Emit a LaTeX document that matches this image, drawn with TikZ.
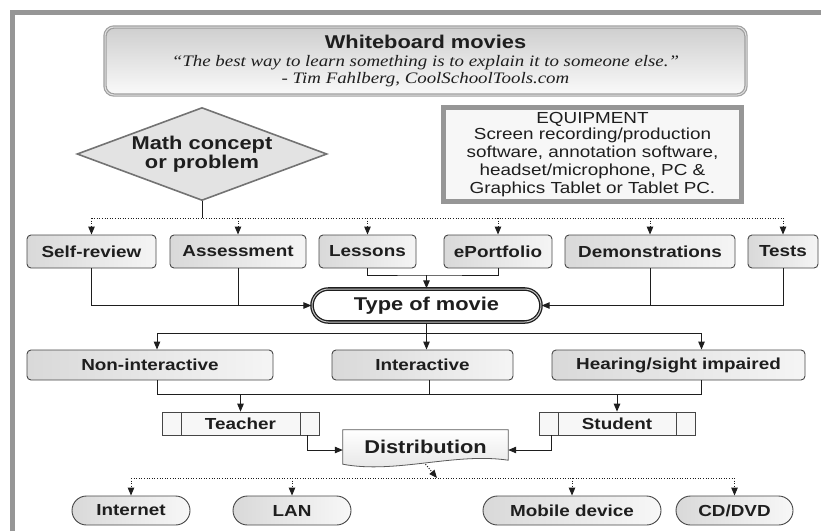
\documentclass[tikz,border=0pt]{standalone}
\usepackage{fontspec}
\setmainfont{Liberation Serif}[FakeStretch=1.18]
\setsansfont{Liberation Sans}[FakeStretch=1.18]
\usetikzlibrary{arrows.meta,calc,backgrounds,shapes.geometric,shapes.misc}
\definecolor{framegray}{RGB}{150,150,150}
\definecolor{boxline}{RGB}{70,70,70}
\definecolor{inkgray}{RGB}{30,30,30}
\tikzset{
  lbl/.style={font=\sffamily\bfseries\fontsize{16}{19}\selectfont,text=inkgray},
  biglbl/.style={font=\sffamily\bfseries\fontsize{18.5}{19.5}\selectfont,text=inkgray},
  card/.style={lbl,draw=boxline,line width=0.9pt,rounded corners=4pt,left color=gray!30,right color=gray!8,inner sep=0pt},
  pill/.style={lbl,rounded rectangle,draw=boxline,line width=0.9pt,left color=gray!30,right color=gray!6,inner sep=0pt,minimum height=29},
  procbox/.style={lbl,draw=boxline,line width=0.7pt,fill=gray!6,inner sep=0pt,minimum height=23,
    path picture={\draw[boxline,line width=0.7pt]
      ([xshift=19pt]path picture bounding box.north west) -- ([xshift=19pt]path picture bounding box.south west)
      ([xshift=-19pt]path picture bounding box.north east) -- ([xshift=-19pt]path picture bounding box.south east);}},
  link/.style={line width=1pt,draw=inkgray},
  arr/.style={link,-{Triangle[length=8pt,width=6.5pt]}},
  dots/.style={line width=1pt,draw=inkgray,dash pattern=on 1pt off 1.6pt},
  dotarr/.style={dots,-{Triangle[length=8pt,width=6.5pt]}},
}
\begin{document}
\begin{tikzpicture}[x=1pt,y=-1pt,font=\sffamily]
\useasboundingbox (0,0) rectangle (821,531);
\draw[framegray,line width=5pt] (12.5,531) -- (12.5,12.5) -- (821,12.5);
\node[draw=gray!75,line width=1.2pt,double=gray!25,double distance=1pt,rounded corners=9pt,
  top color=gray!38,bottom color=gray!4,minimum width=641,minimum height=68,inner sep=0pt,align=center,
  font=\rmfamily\itshape\fontsize{16}{17}\selectfont,text=inkgray] (title) at (425.5,61)
  {{\sffamily\upshape\bfseries\fontsize{18.5}{20}\selectfont Whiteboard movies}\\[1pt]
   “The best way to learn something is to explain it to someone else.”\\
   - Tim Fahlberg, CoolSchoolTools.com};
\node[biglbl,diamond,aspect=2.6,draw=gray!90!black,line width=1.6pt,fill=gray!22,inner sep=0pt,
  minimum width=250,minimum height=93,align=center] (math) at (202,154) {Math concept\\or problem};
\node[draw=framegray,line width=5pt,fill=gray!6,minimum width=298,minimum height=94,inner sep=0pt,align=center,
  font=\sffamily\fontsize{16}{18.2}\selectfont,text=inkgray] (equip) at (592.5,154.5)
  {\raisebox{-2pt}{EQUIPMENT}\\Screen recording/production\\software, annotation software,\\headset/microphone, PC \&\\Graphics Tablet or Tablet PC.};
\node[card,minimum width=129,minimum height=33] (selfrev) at (91.5,251.5) {Self-review};
\node[card,minimum width=136,minimum height=33] (assess) at (238,251.5) {Assessment};
\node[card,minimum width=97,minimum height=33] (lessons) at (367.5,251.5) {Lessons};
\node[card,minimum width=108,minimum height=33] (eport) at (498,251.5) {ePortfolio};
\node[card,minimum width=170,minimum height=33] (demo) at (650,251.5) {Demonstrations};
\node[card,minimum width=70,minimum height=33] (tests) at (783,251.5) {Tests};
\node[biglbl,rounded rectangle,draw=inkgray,line width=1.3pt,double=gray!45,double distance=1pt,fill=white,
  minimum width=229,minimum height=33,inner sep=0pt] (type) at (426.5,305.5) {Type of movie};
\node[card,minimum width=246,minimum height=30] (nonint) at (150,365) {Non-interactive};
\node[card,minimum width=181,minimum height=30] (inter) at (422.5,365) {Interactive};
\node[card,minimum width=253,minimum height=30] (hear) at (678.5,365) {Hearing/sight impaired};
\node[procbox,minimum width=157] (teacher) at (240.5,423.5) {Teacher};
\node[procbox,minimum width=156] (student) at (617,423.5) {Student};
\node[biglbl,minimum width=165,minimum height=34,inner sep=0pt] (dist) at (425.5,447) {Distribution};
\begin{scope}[on background layer]
\draw[draw=gray!70!black,line width=0.8pt,top color=white,bottom color=gray!22]
  (dist.north west) -- (dist.north east) -- ([yshift=4pt]dist.south east)
  .. controls ($(dist.south east)+(-53,-12)$) and ($(dist.south west)+(52,10)$) .. (dist.south west) -- cycle;
\end{scope}
\node[pill,minimum width=118] (internet) at (131,510.5) {Internet};
\node[pill,minimum width=118] (lan) at (292,510.5) {LAN};
\node[pill,minimum width=178] (mobile) at (572,510.5) {Mobile device};
\node[pill,minimum width=117] (cddvd) at (734.5,510.5) {CD/DVD};
\coordinate (bus1) at (202,218);
\coordinate (join1) at (426.5,275);
\coordinate (split2) at (426.5,333);
\coordinate (bus2) at (429,394);
\coordinate (bus3) at (437,478);
\draw[link] (math.south) -- (bus1);
\draw[dots] (selfrev.north |- bus1) -- (tests.north |- bus1);
\foreach \n in {selfrev,assess,lessons,eport,demo,tests}
  \draw[dotarr] (\n.north |- bus1) -- (\n.north);
\draw[arr] (selfrev.south) |- (type.west);
\draw[link] (assess.south) -- (assess.south |- type.west);
\draw[arr] (tests.south) |- (type.east);
\draw[link] (demo.south) -- (demo.south |- type.east);
\draw[link] (lessons.south) |- (join1) -| (eport.south);
\draw[arr] (join1) -- (type.north);
\draw[link] (type.south) -- (split2);
\draw[arr] (split2) -| ([xshift=7pt]nonint.north);
\draw[arr] (split2) -- (split2 |- inter.north);
\draw[arr] (split2) -| ([xshift=23pt]hear.north);
\draw[link] ([xshift=7pt]nonint.south) |- (bus2) -| ([xshift=23pt]hear.south);
\draw[link] (bus2 |- inter.south) -- (bus2);
\draw[arr] (teacher.north |- bus2) -- (teacher.north);
\draw[arr] (student.north |- bus2) -- (student.north);
\draw[arr] ([xshift=-12pt]teacher.south east) |- ([yshift=-3pt]dist.west);
\draw[arr] ([xshift=13pt]student.south west) |- ([yshift=-3pt]dist.east);
\draw[dotarr] (dist.south) -- (bus3);
\draw[dots] (internet.north |- bus3) -- (cddvd.north |- bus3);
\foreach \n in {internet,lan,mobile,cddvd}
  \draw[dotarr] (\n.north |- bus3) -- (\n.north);
\end{tikzpicture}
\end{document}
